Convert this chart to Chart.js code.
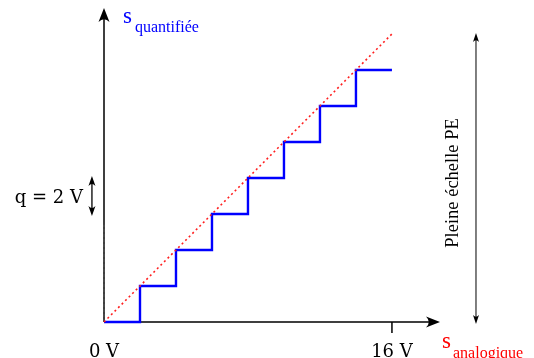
<!DOCTYPE html>
<html lang="fr">
<head>
<meta charset="utf-8">
<title>Quantification</title>
<script src="https://cdn.jsdelivr.net/npm/chart.js@4/dist/chart.umd.min.js"></script>
<style>
  html, body { margin: 0; padding: 0; background: #fff; }
  #wrap { width: 534px; height: 358px; }
</style>
</head>
<body>
<div id="wrap"><canvas id="quantChart" width="534" height="358"></canvas></div>
<script>
// analog input (V) and quantized output (V), step q = 2 V, full scale 16 V
const analogIn = [0, 2, 4, 6, 8, 10, 12, 14, 16];
const quantOut = [0, 2, 4, 6, 8, 10, 12, 14, 14];
const idealIn = [0, 16];
const idealOut = [0, 16];
const qMarkIn = [0, 0];
const qMarkOut = [0, 5.4];

const xMax = 18.67;   // end of the x axis arrow
const yMax = 17.44;   // end of the y axis arrow
const fullScale = 16;
const qStep = [6, 8];      // where the q arrow is drawn
const qArrowX = -0.67;
const peArrowX = 20.67;

const serif = '"Liberation Serif", "DejaVu Serif", serif';
const wideSerif = '"DejaVu Serif", serif';

function toPoints(xs, ys) {
  return xs.map((x, i) => ({ x: x, y: ys[i] }));
}

function arrowHead(ctx, x, y, angle, len, half) {
  ctx.save();
  ctx.translate(x, y);
  ctx.rotate(angle);
  ctx.beginPath();
  ctx.moveTo(0, 0);
  ctx.lineTo(-len, -half);
  ctx.quadraticCurveTo(-len * 0.6, 0, -len, half);
  ctx.closePath();
  ctx.fill();
  ctx.restore();
}

const annotations = {
  id: 'annotations',
  beforeDatasetsDraw(chart) {
    const ctx = chart.ctx;
    const xs = chart.scales.x, ys = chart.scales.y;
    const x0 = xs.getPixelForValue(0), y0 = ys.getPixelForValue(0);
    const xe = xs.getPixelForValue(xMax), ye = ys.getPixelForValue(yMax);
    ctx.save();
    ctx.strokeStyle = '#000';
    ctx.fillStyle = '#000';
    ctx.lineWidth = 1.5;
    // axes
    ctx.beginPath();
    ctx.moveTo(x0, y0); ctx.lineTo(xe - 4, y0);
    ctx.moveTo(x0, y0); ctx.lineTo(x0, ye + 4);
    ctx.stroke();
    arrowHead(ctx, xe, y0, 0, 14, 5.5);
    arrowHead(ctx, x0, ye, -Math.PI / 2, 14, 5.5);
    // full scale tick
    const xf = xs.getPixelForValue(fullScale);
    ctx.beginPath();
    ctx.moveTo(xf, y0); ctx.lineTo(xf, y0 + 11);
    ctx.stroke();
    ctx.restore();
  },
  afterDraw(chart) {
    const ctx = chart.ctx;
    const xs = chart.scales.x, ys = chart.scales.y;
    const x0 = xs.getPixelForValue(0), y0 = ys.getPixelForValue(0);
    ctx.save();
    ctx.fillStyle = '#000';
    ctx.strokeStyle = '#000';

    // q arrow
    const qx = xs.getPixelForValue(qArrowX);
    const qa = ys.getPixelForValue(qStep[0]), qb = ys.getPixelForValue(qStep[1]);
    ctx.lineWidth = 1.3;
    ctx.beginPath();
    ctx.moveTo(qx, qa - 5); ctx.lineTo(qx, qb + 5);
    ctx.stroke();
    arrowHead(ctx, qx, qb - 2, -Math.PI / 2, 10, 3.5);
    arrowHead(ctx, qx, qa + 2, Math.PI / 2, 10, 3.5);
    ctx.font = '18px ' + wideSerif;
    ctx.textAlign = 'right';
    ctx.textBaseline = 'alphabetic';
    ctx.fillText('q = 2 V', qx - 9, (qa + qb) / 2 + 7);

    // full scale arrow
    const px = xs.getPixelForValue(peArrowX);
    const pa = ys.getPixelForValue(0), pb = ys.getPixelForValue(fullScale);
    ctx.lineWidth = 1;
    ctx.beginPath();
    ctx.moveTo(px, pa - 4); ctx.lineTo(px, pb + 4);
    ctx.stroke();
    arrowHead(ctx, px, pb - 1, -Math.PI / 2, 9, 3);
    arrowHead(ctx, px, pa + 2, Math.PI / 2, 9, 3);
    ctx.save();
    ctx.translate(px - 18, (pa + pb) / 2 + 5);
    ctx.rotate(-Math.PI / 2);
    ctx.textAlign = 'center';
    ctx.font = '18.5px ' + serif;
    ctx.fillText('Pleine échelle PE', 0, 0);
    ctx.restore();

    // axis values
    ctx.font = '18px ' + wideSerif;
    ctx.textAlign = 'center';
    ctx.fillText('0 V', x0, y0 + 35);
    ctx.fillText('16 V', xs.getPixelForValue(fullScale), y0 + 35);

    // axis names
    ctx.textAlign = 'left';
    ctx.fillStyle = '#0000ff';
    ctx.font = '23px ' + serif;
    ctx.fillText('s', x0 + 19, 23);
    ctx.font = '16px ' + serif;
    ctx.fillText('quantifiée', x0 + 31, 32);

    ctx.fillStyle = '#ff0000';
    ctx.font = '23px ' + serif;
    const xe = xs.getPixelForValue(xMax);
    ctx.fillText('s', xe + 2, y0 + 26);
    ctx.font = '16px ' + serif;
    ctx.fillText('analogique', xe + 13, y0 + 36);
    ctx.restore();
  }
};

new Chart(document.getElementById('quantChart'), {
  type: 'scatter',
  data: {
    datasets: [
      {
        label: 'idéal',
        data: toPoints(idealIn, idealOut),
        showLine: true,
        borderColor: '#ff2020',
        borderWidth: 1.6,
        borderDash: [2, 3],
        pointRadius: 0,
        clip: false
      },
      {
        label: 'quantifié',
        data: toPoints(analogIn, quantOut),
        showLine: true,
        stepped: 'before',
        borderColor: '#0000ff',
        borderWidth: 2.4,
        pointRadius: 0,
        clip: false
      },
      {
        label: 'repère',
        data: toPoints(qMarkIn, qMarkOut),
        showLine: true,
        borderColor: '#555',
        borderWidth: 1,
        borderDash: [3, 2],
        pointRadius: 0,
        clip: false
      }
    ]
  },
  options: {
    responsive: false,
    animation: false,
    layout: { padding: { left: 104, right: 94, top: 8, bottom: 36 } },
    scales: {
      x: { type: 'linear', min: 0, max: xMax, display: false },
      y: { type: 'linear', min: 0, max: yMax, display: false }
    },
    plugins: {
      legend: { display: false },
      tooltip: { enabled: false }
    }
  },
  plugins: [annotations]
});
</script>
</body>
</html>
